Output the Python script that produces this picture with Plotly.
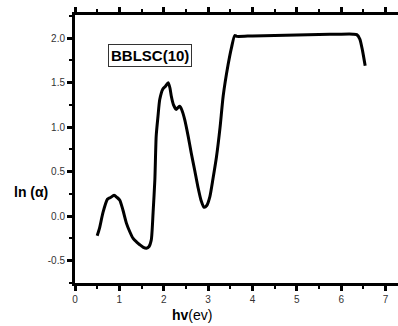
import plotly.graph_objects as go

# data
hv = [0.50, 0.55, 0.63, 0.73, 0.80, 0.88, 0.95, 1.01, 1.08, 1.16, 1.24, 1.31, 1.39, 1.46, 1.54, 1.61, 1.67,
      1.72, 1.76, 1.80, 1.83, 1.87, 1.91, 1.98, 2.04, 2.10, 2.14, 2.17, 2.22, 2.28, 2.32, 2.36, 2.41, 2.47,
      2.55, 2.62, 2.70, 2.77, 2.84, 2.91, 2.97, 3.04, 3.11, 3.19, 3.27, 3.34, 3.45, 3.53, 3.60, 3.65,
      4.0, 4.5, 5.0, 5.5, 6.0, 6.27, 6.35, 6.42, 6.48, 6.54]
ln_alpha = [-0.22, -0.14, 0.04, 0.19, 0.21, 0.235, 0.21, 0.18, 0.07, -0.08, -0.18, -0.25, -0.29, -0.32, -0.35, -0.36, -0.34,
            -0.265, 0.04, 0.41, 0.90, 1.12, 1.31, 1.43, 1.46, 1.50, 1.44, 1.35, 1.25, 1.20, 1.22, 1.235, 1.19, 1.09,
            0.90, 0.71, 0.51, 0.33, 0.18, 0.10, 0.12, 0.22, 0.42, 0.67, 1.00, 1.35, 1.70, 1.90, 2.03, 2.02,
            2.025, 2.03, 2.035, 2.04, 2.045, 2.045, 2.04, 1.99, 1.86, 1.69]

x_ticks = [0, 1, 2, 3, 4, 5, 6, 7]
y_ticks = [-0.5, 0.0, 0.5, 1.0, 1.5, 2.0]
y_tick_text = ["-0.5", "0.0", "0.5", "1.0", "1.5", "2.0"]

fig = go.Figure()
fig.add_trace(go.Scatter(x=hv, y=ln_alpha, mode="lines",
                         line=dict(color="black", width=3, shape="spline", smoothing=0.6),
                         showlegend=False))

tickfont = dict(family="Liberation Sans, Arial, sans-serif", size=10, color="#333333")

fig.update_layout(
    width=398, height=326,
    margin=dict(l=75, r=0, t=15, b=43),
    paper_bgcolor="white", plot_bgcolor="white",
    font=dict(family="Liberation Sans, Arial, sans-serif"),
    xaxis=dict(range=[0, 7.28], tickvals=x_ticks, ticktext=[str(v) for v in x_ticks],
               showline=True, linecolor="black", linewidth=3, mirror="ticks",
               ticks="outside", ticklen=5, tickwidth=3, tickcolor="black",
               minor=dict(dtick=0.5, tick0=0, ticks="outside", ticklen=3, tickwidth=2, tickcolor="black"),
               showgrid=False, zeroline=False, tickfont=tickfont),
    yaxis=dict(range=[-0.75, 2.26], tickvals=y_ticks, ticktext=y_tick_text,
               showline=True, linecolor="black", linewidth=3, mirror=False,
               ticks="outside", ticklen=5, tickwidth=3, tickcolor="black",
               minor=dict(dtick=0.25, tick0=0, ticks="outside", ticklen=3, tickwidth=2, tickcolor="black"),
               showgrid=False, zeroline=False, tickfont=tickfont),
    annotations=[
        dict(text="<b>BBLSC(10)</b>", xref="paper", yref="paper",
             x=(150 - 75) / 323, y=(283 - 55) / 268, xanchor="center", yanchor="middle",
             showarrow=False, font=dict(size=15, color="black"),
             bordercolor="#333333", borderwidth=1, borderpad=2, bgcolor="white"),
        dict(text="<b>ln (α)</b>", xref="paper", yref="paper",
             x=(12 - 75) / 323, y=(283 - 192) / 268, xanchor="left", yanchor="middle",
             showarrow=False, font=dict(size=14, color="black")),
        dict(text="<b>hv</b>(ev)", xref="paper", yref="paper",
             x=(192 - 75) / 323, y=(283 - 315) / 268, xanchor="center", yanchor="middle",
             showarrow=False, font=dict(size=14, color="black")),
    ],
)

fig.write_html("out.html")
